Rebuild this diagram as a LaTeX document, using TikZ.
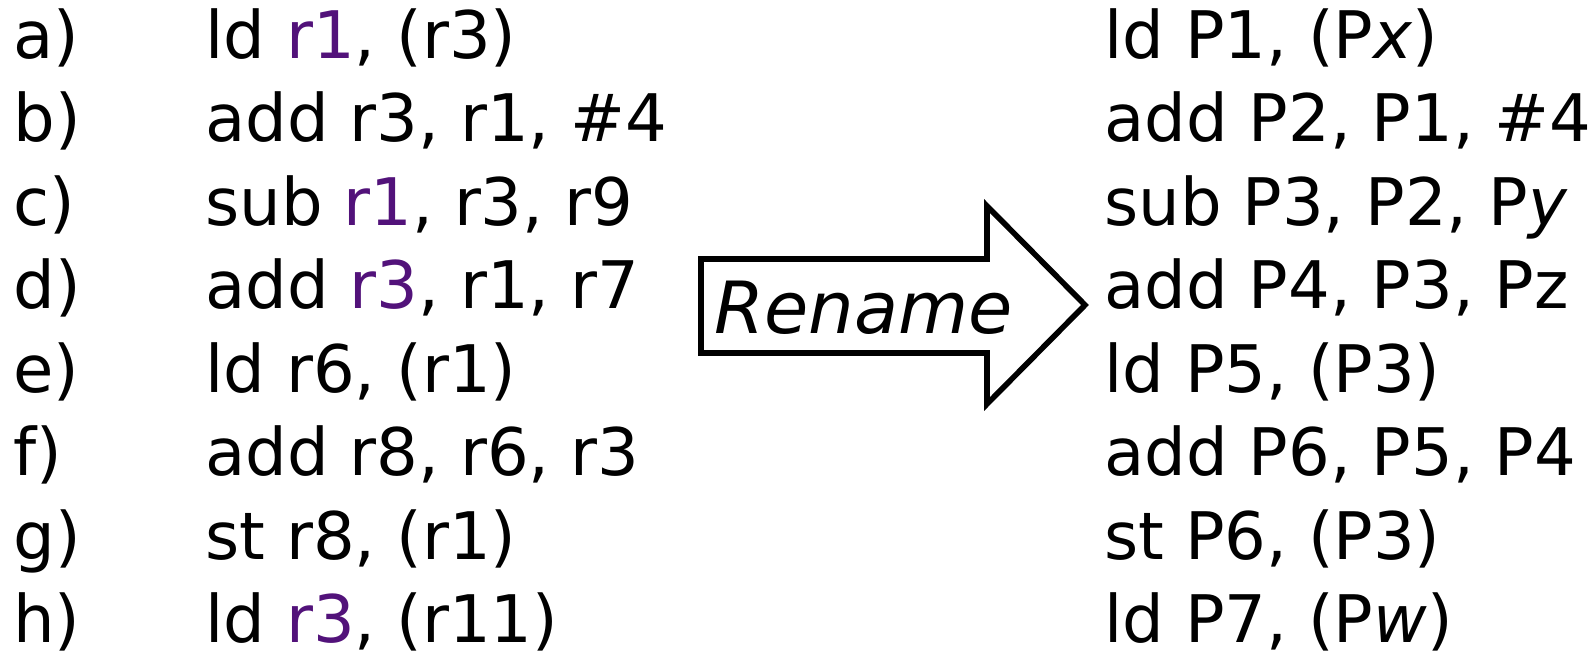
\documentclass[tikz,border=0pt]{standalone}
\usepackage{fontspec}
\setmainfont{DejaVu Sans}
\usetikzlibrary{positioning}
\definecolor{regpurple}{RGB}{82,18,122}
\newcommand{\reg}[1]{\textcolor{regpurple}{#1}}

\begin{document}
\begin{tikzpicture} [x=0.5pt, y=-0.5pt, node distance=41.75pt, code/.style={anchor=base west, inner sep=0pt, font=\fontsize{32.8}{38}\selectfont}, rowbelow/.style={code, below=of #1.base west, anchor=base west}, arrowline/.style={draw, line width=2.8pt, line join=miter}]
	\useasboundingbox (0,0) rectangle (1593,660);
	% row labels
	\node [code] (la) at (13,58) {a)};
	\node [rowbelow=la] (lb) {b)};
	\node [rowbelow=lb] (lc) {c)};
	\node [rowbelow=lc] (ld) {d)};
	\node [rowbelow=ld] (le) {e)};
	\node [rowbelow=le] (lf) {f)};
	\node [rowbelow=lf] (lg) {g)};
	\node [rowbelow=lg] (lh) {h)};
	% original code
	\node [code] (ia) at (205,58) {ld \reg{r1}, (r3)};
	\node [rowbelow=ia] (ib) {add r3, r1, \#4};
	\node [rowbelow=ib] (ic) {sub \reg{r1}, r3, r9};
	\node [rowbelow=ic] (id) {add \reg{r3}, r1, r7};
	\node [rowbelow=id] (ie) {ld r6, (r1)};
	\node [rowbelow=ie] (if) {add r8, r6, r3};
	\node [rowbelow=if] (ig) {st r8, (r1)};
	\node [rowbelow=ig] (ih) {ld \reg{r3}, (r11)};
	% renamed code
	\node [code] (ra) at (1104,58) {ld P1, (P\textit{x})};
	\node [rowbelow=ra] (rb) {add P2, P1, \#4};
	\node [rowbelow=rb] (rc) {sub P3, P2, P\textit{y}};
	\node [rowbelow=rc] (rd) {add P4, P3, Pz};
	\node [rowbelow=rd] (re) {ld P5, (P3)};
	\node [rowbelow=re] (rf) {add P6, P5, P4};
	\node [rowbelow=rf] (rg) {st P6, (P3)};
	\node [rowbelow=rg] (rh) {ld P7, (P\textit{w})};
	% arrow
	\draw [arrowline] (701,259) -- (987,259) -- (987,206) -- (1085,305) -- (987,404) -- (987,353) -- (701,353) -- cycle;
	\node [code, font=\fontsize{36}{40}\selectfont\itshape] (rename) at (714,333) {Rename};
\end{tikzpicture}
\end{document}
